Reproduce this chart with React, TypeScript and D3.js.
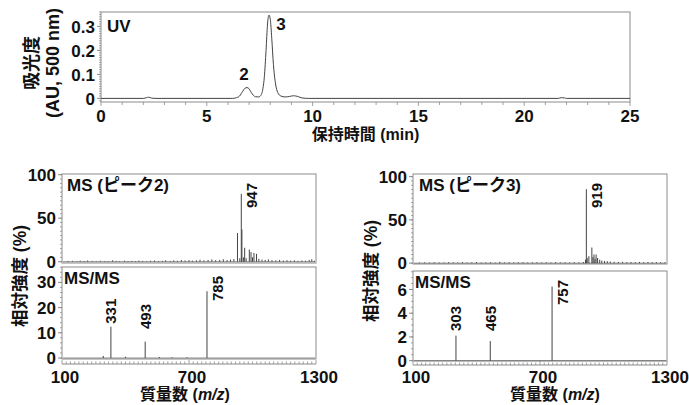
import React, { useEffect, useRef } from 'react';
import * as d3 from 'd3';

// UV chromatogram, points (min, AU)
const uvTime = [0, 2.0, 2.15, 2.25, 2.4, 2.6, 6.2, 6.4, 6.55, 6.7, 6.8, 6.9, 7.0, 7.1, 7.2, 7.3, 7.45, 7.55, 7.65, 7.72, 7.8, 7.87, 7.94, 8.0, 8.07, 8.15, 8.25, 8.35, 8.5, 8.7, 8.9, 9.1, 9.3, 9.5, 9.8, 21.6, 21.75, 21.9, 22.0, 25];
const uvAbs = [0, 0, 0.003, 0.005, 0.001, 0, 0, 0.003, 0.01, 0.03, 0.042, 0.045, 0.04, 0.025, 0.013, 0.007, 0.006, 0.012, 0.04, 0.09, 0.2, 0.31, 0.347, 0.33, 0.25, 0.14, 0.06, 0.025, 0.01, 0.006, 0.008, 0.011, 0.008, 0.002, 0, 0, 0.003, 0.002, 0, 0];
const uvXTicks = [0, 5, 10, 15, 20, 25];
const uvYTicks = [0, 0.1, 0.2, 0.3];
const uvPeakTime = [6.9, 7.94];
const uvPeakName = ['2', '3'];

// MS of peak 2
const ms2Mz = [128, 150, 172, 186, 205, 221, 243, 262, 281, 300, 318, 339, 356, 372, 395, 412, 430, 447, 463, 481, 500, 518, 537, 556, 574, 590, 611, 628, 645, 664, 681, 700, 716, 735, 752, 770, 790, 808, 826, 845, 862, 880, 896, 912, 929, 940, 947, 950, 957, 963, 970, 985, 993, 1000, 1007, 1019, 1030, 1045, 1060, 1075, 1092, 1110, 1128, 1146, 1163, 1180, 1198, 1215, 1233, 1250, 1268, 1280, 1292];
const ms2Int = [0.8, 1.0, 0.6, 1.2, 0.7, 1.4, 0.9, 0.6, 1.1, 0.8, 0.7, 1.6, 0.9, 0.6, 1.2, 0.8, 1.0, 0.7, 1.3, 0.9, 0.6, 1.1, 1.4, 0.8, 1.0, 1.7, 0.9, 1.5, 1.1, 2.0, 1.4, 1.8, 1.2, 1.6, 2.2, 1.5, 2.0, 2.6, 1.8, 2.1, 2.8, 1.9, 2.4, 3.0, 33, 4, 78, 37, 5, 16, 4, 14, 11, 5, 10, 9, 3.2, 2.4, 2.0, 2.6, 1.8, 1.5, 2.1, 1.3, 1.7, 1.2, 1.6, 1.0, 1.4, 1.1, 1.9, 2.8, 1.2];
const ms2Labels = [947];

// MS/MS of peak 2
const msms2Mz = [295, 331, 400, 493, 560, 620, 690, 785];
const msms2Int = [0.8, 12.4, 0.5, 6.5, 0.4, 0.3, 0.3, 26.5];
const msms2Labels = [331, 493, 785];

// MS of peak 3
const ms3Mz = [130, 155, 178, 200, 224, 246, 268, 290, 312, 334, 356, 378, 400, 422, 444, 466, 488, 510, 532, 554, 576, 598, 620, 642, 664, 686, 708, 730, 752, 774, 796, 818, 840, 862, 884, 905, 915, 919, 923, 931, 945, 950, 955, 960, 965, 972, 982, 992, 1005, 1018, 1032, 1050, 1070, 1090, 1110, 1130, 1150, 1170, 1190, 1210, 1230, 1250, 1270, 1290];
const ms3Int = [0.7, 0.9, 0.6, 1.0, 0.8, 0.7, 1.1, 0.9, 0.8, 1.2, 0.7, 0.9, 1.3, 0.8, 0.9, 1.0, 0.7, 1.5, 0.9, 1.1, 0.8, 1.0, 1.2, 0.8, 0.9, 1.1, 0.7, 1.0, 0.8, 1.2, 0.9, 1.0, 0.8, 1.1, 0.9, 1.3, 4, 85.5, 6, 8, 18, 7, 10, 5, 10, 6, 4, 3, 2.5, 2.2, 1.8, 1.6, 1.4, 1.5, 1.2, 1.3, 1.1, 1.4, 1.2, 1.3, 1.1, 1.2, 1.0, 1.1];
const ms3Labels = [919];

// MS/MS of peak 3
const msms3Mz = [303, 465, 757];
const msms3Int = [2.1, 1.65, 6.25];
const msms3Labels = [303, 465, 757];

const mzTicks = [100, 700, 1300];
const msYTicks = [0, 50, 100];
const msms2YTicks = [0, 10, 20, 30];
const msms3YTicks = [0, 2, 4, 6];

const FONT = '"Liberation Sans", Arial, "Noto Sans CJK JP", sans-serif';
const FRAME = '#8c8c8c';
const TRACE = '#444';
const INK = '#111';
const TICK_FS = 17;

type Sel = d3.Selection<SVGGElement, unknown, null, undefined>;

function yAxisLeft(g: Sel, y: d3.ScaleLinear<number, number>, x: number, ticks: number[], minor: number, fmt: (v: number) => string) {
  const [lo, hi] = y.domain();
  const minors = d3.range(Math.ceil(lo / minor) * minor, hi + 1e-9, minor);
  g.selectAll(null).data(minors).enter().append('line')
    .attr('x1', x - 2).attr('x2', x)
    .attr('y1', (d) => y(d)).attr('y2', (d) => y(d))
    .attr('stroke', FRAME).attr('stroke-width', 0.8);
  g.selectAll(null).data(ticks).enter().append('line')
    .attr('x1', x - 4).attr('x2', x)
    .attr('y1', (d) => y(d)).attr('y2', (d) => y(d))
    .attr('stroke', FRAME);
  g.selectAll(null).data(ticks).enter().append('text')
    .attr('x', x - 6).attr('y', (d) => y(d))
    .attr('dy', '0.36em')
    .attr('text-anchor', 'end')
    .attr('font-size', TICK_FS).attr('font-weight', 'bold').attr('fill', INK)
    .text((d) => fmt(d));
}

function spectrum(
  g: Sel,
  x: d3.ScaleLinear<number, number>,
  top: number,
  bottom: number,
  domain: [number, number],
  mz: number[],
  inten: number[],
  labels: number[],
  yTicks: number[],
  minor: number,
  title: string,
  titleDx: number,
) {
  const y = d3.scaleLinear().domain(domain).range([bottom, top]);
  const [x0, x1] = x.range();
  g.append('rect')
    .attr('x', x0).attr('y', top).attr('width', x1 - x0).attr('height', bottom - top)
    .attr('fill', 'none').attr('stroke', FRAME).attr('stroke-width', 1);
  // baseline
  g.append('line')
    .attr('x1', x0 + 1).attr('x2', x1 - 1)
    .attr('y1', y(0)).attr('y2', y(0))
    .attr('stroke', TRACE).attr('stroke-width', 0.6);
  g.selectAll(null).data(mz).enter().append('line')
    .attr('x1', (d) => x(d)).attr('x2', (d) => x(d))
    .attr('y1', y(0)).attr('y2', (d, i) => y(inten[i]))
    .attr('stroke', TRACE).attr('stroke-width', 1);
  yAxisLeft(g, y, x0, yTicks, minor, (v) => String(v));
  g.append('text')
    .attr('x', x0 + 5 + titleDx).attr('y', top + 17)
    .attr('font-size', 17).attr('font-weight', 'bold').attr('fill', INK)
    .text(title);
  const hi = domain[1];
  labels.forEach((m) => {
    const v = inten[mz.indexOf(m)];
    const px = x(m);
    if (v / hi > 0.6) {
      g.append('text')
        .attr('transform', `translate(${px + 16},${top + 9}) rotate(-90)`)
        .attr('text-anchor', 'end')
        .attr('font-size', 15).attr('font-weight', 'bold').attr('fill', INK)
        .text(String(m));
    } else {
      const sy = Math.min(y(v) - 3, bottom - 30);
      g.append('text')
        .attr('transform', `translate(${px},${sy}) rotate(-90)`)
        .attr('dy', '0.36em')
        .attr('text-anchor', 'start')
        .attr('font-size', 15).attr('font-weight', 'bold').attr('fill', INK)
        .text(String(m));
    }
  });
}

function mzAxis(g: Sel, x: d3.ScaleLinear<number, number>, lineY: number, titleDx: number) {
  const [x0, x1] = x.range();
  g.append('line').attr('x1', x0).attr('x2', x1).attr('y1', lineY).attr('y2', lineY)
    .attr('stroke', FRAME);
  g.selectAll(null).data(d3.range(100, 1301, 20)).enter().append('line')
    .attr('x1', (d) => x(d)).attr('x2', (d) => x(d))
    .attr('y1', lineY).attr('y2', (d) => (d % 600 === 100 ? lineY - 4 : lineY - 2.5))
    .attr('stroke', FRAME).attr('stroke-width', 0.8);
  g.selectAll(null).data(mzTicks).enter().append('text')
    .attr('x', (d) => x(d) + 3).attr('y', 383)
    .attr('text-anchor', 'middle')
    .attr('font-size', TICK_FS).attr('font-weight', 'bold').attr('fill', INK)
    .text((d) => String(d));
  const t = g.append('text')
    .attr('x', (x0 + x1) / 2 + titleDx).attr('y', 400)
    .attr('text-anchor', 'middle')
    .attr('font-size', 16).attr('font-weight', 'bold').attr('fill', INK);
  t.append('tspan').text('質量数 (');
  t.append('tspan').attr('font-style', 'italic').text('m/z');
  t.append('tspan').text(')');
}

function rotatedTitle(g: Sel, x: number, y: number, text: string, fs: number) {
  g.append('text')
    .attr('transform', `translate(${x},${y}) rotate(-90)`)
    .attr('dy', '0.36em')
    .attr('text-anchor', 'middle')
    .attr('font-size', fs).attr('font-weight', 'bold').attr('fill', INK)
    .text(text);
}

export default function App() {
  const ref = useRef<SVGSVGElement>(null);

  useEffect(() => {
    const svg = d3.select(ref.current);
    svg.selectAll('*').remove();
    const root = svg.append('g').attr('font-family', FONT) as Sel;

    // ---- UV chromatogram ----
    const uv = root.append('g') as Sel;
    const ux = d3.scaleLinear().domain([0, 25]).range([101, 630]);
    const uy = d3.scaleLinear().domain([-0.015, 0.36]).range([102, 12]);
    uv.append('rect').attr('x', 101).attr('y', 12).attr('width', 529).attr('height', 90)
      .attr('fill', 'none').attr('stroke', FRAME);
    uv.selectAll(null).data(d3.range(0, 26, 1)).enter().append('line')
      .attr('x1', (d) => ux(d)).attr('x2', (d) => ux(d))
      .attr('y1', 102).attr('y2', (d) => (d % 5 === 0 ? 106 : 105))
      .attr('stroke', FRAME).attr('stroke-width', 0.8);
    uv.selectAll(null).data(uvXTicks).enter().append('text')
      .attr('x', (d) => ux(d)).attr('y', 122)
      .attr('text-anchor', 'middle')
      .attr('font-size', TICK_FS).attr('font-weight', 'bold').attr('fill', INK)
      .text((d) => String(d));
    yAxisLeft(uv, uy, 101, uvYTicks, 0.01, (v) => (v === 0 ? '0' : d3.format('.1f')(v)));
    const pts = uvTime.map((t, i) => [t, uvAbs[i]] as [number, number]);
    uv.append('path')
      .attr('d', d3.line<[number, number]>().x((d) => ux(d[0])).y((d) => uy(d[1])).curve(d3.curveMonotoneX)(pts) || '')
      .attr('fill', 'none').attr('stroke', TRACE).attr('stroke-width', 1);
    uv.append('text').attr('x', 107).attr('y', 32)
      .attr('font-size', 17).attr('font-weight', 'bold').attr('fill', INK).text('UV');
    uvPeakTime.forEach((t, i) => {
      const v = uvAbs[uvTime.indexOf(t)];
      const big = v > 0.2;
      uv.append('text')
        .attr('x', big ? ux(t) + 12 : ux(t) - 3)
        .attr('y', big ? uy(v) + 15 : uy(v) - 8)
        .attr('text-anchor', 'middle')
        .attr('font-size', 17).attr('font-weight', 'bold').attr('fill', INK)
        .text(uvPeakName[i]);
    });
    uv.append('text').attr('x', 365.5).attr('y', 140)
      .attr('text-anchor', 'middle')
      .attr('font-size', 16).attr('font-weight', 'bold').attr('fill', INK)
      .text('保持時間 (min)');
    rotatedTitle(uv, 32, 63, '吸光度', 18);
    rotatedTitle(uv, 53, 63, '(AU, 500 nm)', 18);

    // ---- MS, peak 2 ----
    const left = root.append('g') as Sel;
    const lx = d3.scaleLinear().domain([100, 1300]).range([62, 316]);
    spectrum(left, lx, 174, 263, [-1.5, 100.8], ms2Mz, ms2Int, ms2Labels, msYTicks, 5, 'MS (ピーク2)', 0);
    spectrum(left, lx, 267, 359, [-0.4, 36.1], msms2Mz, msms2Int, msms2Labels, msms2YTicks, 2, 'MS/MS', -3);
    mzAxis(left, lx, 364, -4);
    rotatedTitle(left, 20, 276, '相対強度 (%)', 17.5);

    // ---- MS, peak 3 ----
    const right = root.append('g') as Sel;
    const rx = d3.scaleLinear().domain([100, 1300]).range([413, 667]);
    spectrum(right, rx, 174, 264, [-1, 103], ms3Mz, ms3Int, ms3Labels, msYTicks, 5, 'MS (ピーク3)', 1);
    spectrum(right, rx, 271, 361, [-0.03, 7.56], msms3Mz, msms3Int, msms3Labels, msms3YTicks, 0.5, 'MS/MS', -3);
    mzAxis(right, rx, 365, 15);
    rotatedTitle(right, 371, 271, '相対強度 (%)', 17.5);
  }, []);

  return (
    <svg ref={ref} width={689} height={405} style={{ position: 'absolute', left: 0, top: 0, background: '#fff' }} />
  );
}
